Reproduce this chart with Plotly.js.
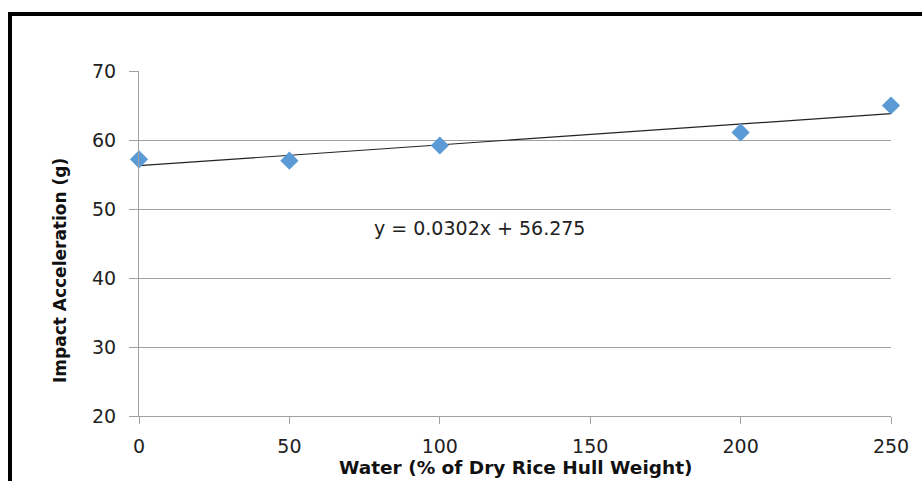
<!DOCTYPE html>
<html>
<head>
<meta charset="utf-8">
<script src="https://cdn.plot.ly/plotly-3.0.1.min.js"></script>
<style>
html,body{margin:0;padding:0;background:#fff;}
#wrap{position:relative;width:922px;height:481px;overflow:hidden;}
#chart{position:absolute;left:0;top:0;width:922px;height:481px;}
#frame{position:absolute;left:8px;top:12px;width:930px;height:500px;border-top:4px solid #000;border-left:4px solid #000;pointer-events:none;}
</style>
</head>
<body>
<div id="wrap"><div id="chart"></div><div id="frame"></div></div>
<script>
const water = [0, 50, 100, 200, 250];
const acceleration = [57.2, 57.0, 59.2, 61.1, 65.0];
const trendSlope = 0.0302;
const trendIntercept = 56.275;
const trendX = [0, 250];
const trendY = trendX.map(x => trendSlope * x + trendIntercept);
const xTicks = [0, 50, 100, 150, 200, 250];
const yTicks = [20, 30, 40, 50, 60, 70];
const equationText = 'y = 0.0302x + 56.275';
const xTitle = 'Water (% of Dry Rice Hull Weight)';
const yTitle = 'Impact Acceleration (g)';

const L = 139, R = 891, T = 71, B = 416;
const px = v => (v - L) / (R - L);
const py = v => 1 - (v - T) / (B - T);

const data = [
  {x: trendX, y: trendY, type: 'scatter', mode: 'lines', cliponaxis: false,
   line: {color: '#222222', width: 1.2}},
  {x: water, y: acceleration, type: 'scatter', mode: 'markers', cliponaxis: false,
   marker: {symbol: 'diamond', size: 14, color: '#5B9BD5'}}
];

const tickFont = {size: 19, family: 'DejaVu Sans', color: '#222'};
const layout = {
  width: 922, height: 481,
  margin: {l: L, r: 922 - R, t: T, b: 481 - B},
  paper_bgcolor: '#fff', plot_bgcolor: '#fff',
  showlegend: false,
  font: {family: 'DejaVu Sans', color: '#222'},
  xaxis: {
    range: [0, 250], tickvals: xTicks, ticktext: xTicks.map(String),
    showgrid: false, zeroline: false, showline: true, linecolor: '#a0a0a0', linewidth: 1,
    ticks: 'outside', ticklen: 7, tickcolor: '#a0a0a0', tickfont: tickFont, ticklabelstandoff: 6
  },
  yaxis: {
    range: [20, 70], tickvals: yTicks, ticktext: yTicks.map(String),
    showgrid: true, gridcolor: '#a0a0a0', gridwidth: 1, zeroline: false,
    showline: true, linecolor: '#a0a0a0', linewidth: 1,
    ticks: 'outside', ticklen: 9, tickcolor: '#a0a0a0', tickfont: tickFont, ticklabelstandoff: 9
  },
  annotations: [
    {xref: 'paper', yref: 'paper', x: px(372), y: py(228), xanchor: 'left', yanchor: 'middle',
     text: equationText, showarrow: false, font: {size: 19, family: 'DejaVu Sans', color: '#222'}},
    {xref: 'paper', yref: 'paper', x: px(515), y: py(467), xanchor: 'center', yanchor: 'middle',
     text: xTitle, showarrow: false, font: {size: 18.5, family: 'DejaVu Sans', weight: 'bold', color: '#111'}},
    {xref: 'paper', yref: 'paper', x: px(60), y: py(271), xanchor: 'center', yanchor: 'middle', textangle: -90,
     text: yTitle, showarrow: false, font: {size: 17, family: 'DejaVu Sans', weight: 'bold', color: '#111'}}
  ]
};

Plotly.newPlot('chart', data, layout, {displayModeBar: false, staticPlot: true});
</script>
</body>
</html>
